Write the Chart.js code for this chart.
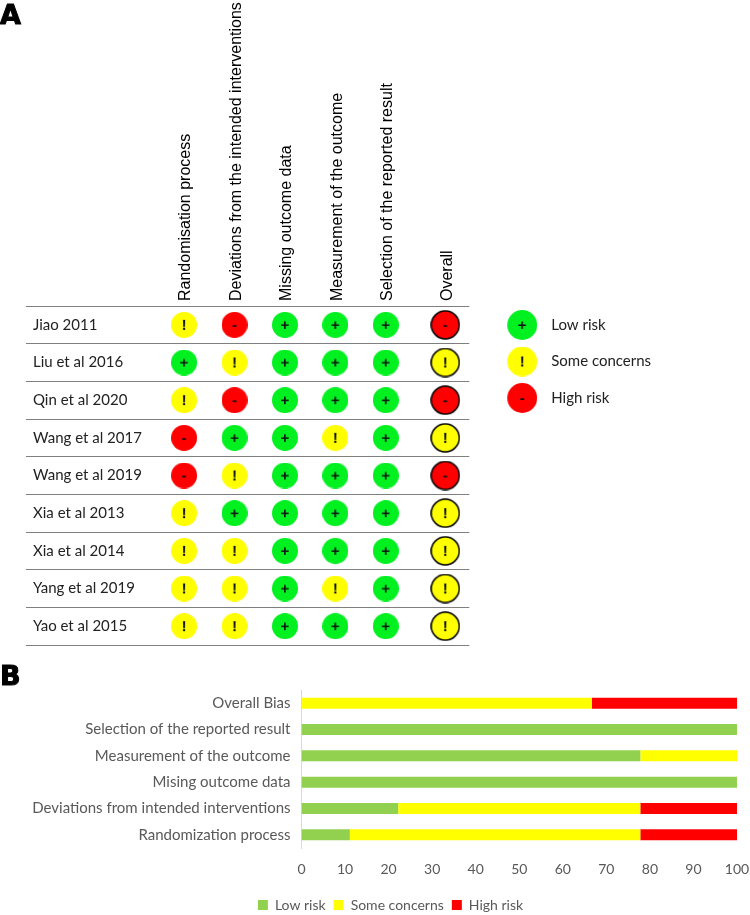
<!DOCTYPE html>
<html>
<head>
<meta charset="utf-8">
<title>Risk of bias</title>
<script src="https://cdn.jsdelivr.net/npm/chart.js@4"></script>
<style>
  html, body { margin: 0; background: #fff; }
  #page { position: relative; width: 750px; height: 915px; overflow: hidden; }
  canvas { position: absolute; left: 0; }
  #chartA { top: 0; }
  #chartB { top: 650px; }
  .panel { position: absolute; left: 0; font: 900 27px "DejaVu Sans", sans-serif; color: #000; -webkit-text-stroke: 1px #000; }
</style>
</head>
<body>
<div id="page">
  <canvas id="chartA" width="750" height="661"></canvas>
  <canvas id="chartB" width="750" height="272"></canvas>
  <div class="panel" style="top:-1px">A</div>
  <div class="panel" style="top:660px">B</div>
</div>
<script>
const domains = ['Randomisation process', 'Deviations from the intended interventions', 'Missing outcome data',
  'Measurement of the outcome', 'Selection of the reported result', 'Overall'];
const studies = ['Jiao 2011', 'Liu et al 2016', 'Qin et al 2020', 'Wang et al 2017', 'Wang et al 2019',
  'Xia et al 2013', 'Xia et al 2014', 'Yang et al 2019', 'Yao et al 2015'];

// one judgement per domain, same order as domains
const jiao2011 = ['!', '-', '+', '+', '+', '-'];
const liu2016 = ['+', '!', '+', '+', '+', '!'];
const qin2020 = ['!', '-', '+', '+', '+', '-'];
const wang2017 = ['-', '+', '+', '!', '+', '!'];
const wang2019 = ['-', '!', '+', '+', '+', '-'];
const xia2013 = ['!', '+', '+', '+', '+', '!'];
const xia2014 = ['!', '!', '+', '+', '+', '!'];
const yang2019 = ['!', '!', '+', '!', '+', '!'];
const yao2015 = ['!', '!', '+', '+', '+', '!'];
const judgements = [jiao2011, liu2016, qin2020, wang2017, wang2019, xia2013, xia2014, yang2019, yao2015];

const riskNames = ['Low risk', 'Some concerns', 'High risk'];
const riskGlyphs = ['+', '!', '-'];

const biasCategories = ['Overall Bias', 'Selection of the reported result', 'Measurement of the outcome',
  'Mising outcome data', 'Deviations from intended interventions', 'Randomization process'];
const lowRisk = [0, 100, 77.8, 100, 22.2, 11.1];
const someConcerns = [66.7, 0, 22.2, 0, 55.6, 66.7];
const highRisk = [33.3, 0, 0, 0, 22.2, 22.2];
const xTicks = [0, 10, 20, 30, 40, 50, 60, 70, 80, 90, 100];

const dotColors = { '+': '#00f020', '!': '#ffff00', '-': '#ff0000' };
const overallGap = 0.18; // the Overall column sits a little apart from the others

function slot(i) {
  return i === domains.length - 1 ? i + overallGap : i;
}

// dot with its glyph on a small canvas; w/cx let the legend nudge it inside its box
function makeDot(glyph, diameter, outlined, w, cx) {
  const c = document.createElement('canvas');
  c.width = w || diameter;
  c.height = diameter;
  cx = cx === undefined ? c.width / 2 : cx;
  const cy = c.height / 2;
  const g = c.getContext('2d');
  g.beginPath();
  g.arc(cx, cy, diameter / 2 - (outlined ? 1 : 0), 0, Math.PI * 2);
  g.fillStyle = dotColors[glyph];
  g.fill();
  if (outlined) {
    g.lineWidth = 1.5;
    g.strokeStyle = '#000';
    g.stroke();
  }
  g.fillStyle = '#111';
  g.font = 'bold 15px "Liberation Sans"';
  g.textAlign = 'center';
  g.textBaseline = 'middle';
  g.fillText(glyph, cx, cy + 1);
  return c;
}

const plainDots = {}, overallDots = {}, legendDots = {};
riskGlyphs.forEach(function (k) {
  plainDots[k] = makeDot(k, 26, false);
  overallDots[k] = makeDot(k, 30, true);
  legendDots[k] = makeDot(k, 30, false, 40, 25);
});

// moves a legend after layout, and optionally reserves extra width for it
function legendPlacer(dx, dy, extraWidth) {
  return {
    id: 'legendPlacer',
    beforeLayout: function (chart) {
      const legend = chart.legend;
      const fit = legend.fit;
      legend.fit = function () {
        fit.call(this);
        this.width += extraWidth;
      };
    },
    afterLayout: function (chart) {
      const legend = chart.legend;
      legend.left += dx;
      legend.right += dx;
      legend.top += dy;
      legend.bottom += dy;
    }
  };
}

const riskDatasets = riskGlyphs.map(function (glyph, r) {
  const points = [];
  judgements.forEach(function (row, s) {
    row.forEach(function (j, d) {
      if (j === glyph) points.push({ x: slot(d), y: studies[s] });
    });
  });
  return {
    label: riskNames[r],
    data: points,
    pointStyle: function (ctx) {
      if (!ctx.raw) return plainDots[glyph];
      return ctx.raw.x === slot(domains.length - 1) ? overallDots[glyph] : plainDots[glyph];
    },
    showLine: false
  };
});

new Chart(document.getElementById('chartA'), {
  type: 'scatter',
  data: { datasets: riskDatasets },
  plugins: [legendPlacer(0, -10, 30)],
  options: {
    responsive: false,
    animation: false,
    layout: { padding: { left: 26, right: 93, bottom: 5 } },
    scales: {
      x: {
        type: 'linear',
        position: 'top',
        min: -3.135,
        max: 5.655,
        grid: { display: false },
        border: { display: false },
        afterBuildTicks: function (axis) {
          axis.ticks = domains.map(function (d, i) { return { value: slot(i) }; });
        },
        afterFit: function (axis) { axis.height = 306; },
        ticks: {
          autoSkip: false,
          minRotation: 90,
          maxRotation: 90,
          padding: -3,
          labelOffset: 21,
          color: '#000',
          font: { family: '"Liberation Sans"', size: 16 },
          callback: function (value, i) { return domains[i]; }
        }
      },
      y: {
        type: 'category',
        labels: studies,
        offset: true,
        grid: { offset: true, color: '#7f7f7f', lineWidth: 1, drawTicks: false },
        border: { display: false },
        afterFit: function (axis) { axis.width = 0; },
        ticks: {
          mirror: true,
          padding: 7,
          color: '#222',
          font: { family: 'Lato', size: 15 }
        }
      }
    },
    plugins: {
      tooltip: { enabled: false },
      legend: {
        position: 'right',
        align: 'start',
        fullSize: false,
        labels: {
          usePointStyle: true,
          pointStyleWidth: 53,
          padding: 21.5,
          color: '#222',
          font: { family: 'Lato', size: 15 },
          generateLabels: function () {
            return riskNames.map(function (name, r) {
              return { text: name, pointStyle: legendDots[riskGlyphs[r]], fontColor: '#222', lineWidth: 0, datasetIndex: r };
            });
          }
        }
      }
    }
  }
});

new Chart(document.getElementById('chartB'), {
  type: 'bar',
  data: {
    labels: biasCategories,
    datasets: [
      { label: riskNames[0], data: lowRisk, backgroundColor: '#92d050' },
      { label: riskNames[1], data: someConcerns, backgroundColor: '#ffff00' },
      { label: riskNames[2], data: highRisk, backgroundColor: '#ff0000' }
    ]
  },
  plugins: [legendPlacer(6, 0, 0)],
  options: {
    indexAxis: 'y',
    responsive: false,
    animation: false,
    layout: { padding: { left: 32, right: 13, top: 40 } },
    datasets: { bar: { categoryPercentage: 1, barPercentage: 0.42 } },
    scales: {
      x: {
        stacked: true,
        min: 0,
        max: 100,
        grid: { display: false },
        border: { display: false },
        afterBuildTicks: function (axis) {
          axis.ticks = xTicks.map(function (v) { return { value: v }; });
        },
        afterFit: function (axis) {
          axis.height = 42;
          axis.paddingLeft = 0;
          axis.paddingRight = 0;
        },
        ticks: { color: '#595959', padding: 5, maxRotation: 0, font: { family: 'Lato', size: 14 } }
      },
      y: {
        stacked: true,
        grid: { display: false, drawTicks: false },
        border: { color: '#d9d9d9' },
        afterFit: function (axis) { axis.width = 269.5; },
        ticks: { color: '#595959', padding: 11, font: { family: 'Lato', size: 15 } }
      }
    },
    plugins: {
      tooltip: { enabled: false },
      legend: {
        position: 'bottom',
        labels: {
          boxWidth: 10,
          boxHeight: 10,
          padding: 8,
          color: '#595959',
          font: { family: 'Lato', size: 14 }
        }
      }
    }
  }
});
</script>
</body>
</html>
